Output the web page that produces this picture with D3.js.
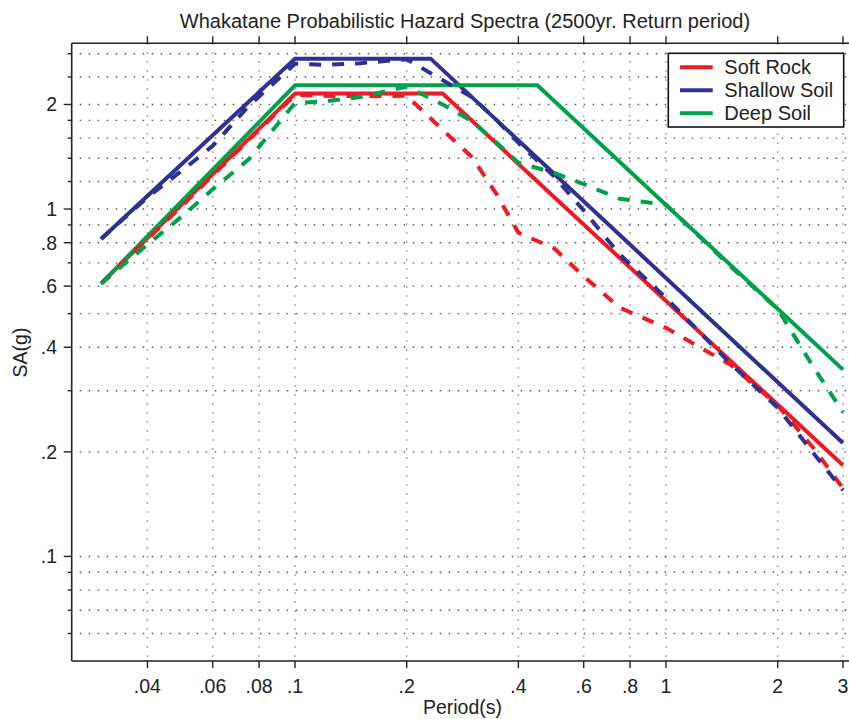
<!DOCTYPE html>
<html>
<head>
<meta charset="utf-8">
<script src="https://cdn.jsdelivr.net/npm/d3@7"></script>
<style>
  html, body { margin: 0; padding: 0; background: #fff; }
  svg { display: block; }
  text { font-family: "Liberation Sans", Arial, Helvetica, sans-serif; fill: #222; }
</style>
</head>
<body>
<svg id="chart" width="849" height="719"></svg>
<script>
// ---- Data ----
const seriesNames = ["Soft Rock", "Shallow Soil", "Deep Soil"];
const seriesColors = ["#ED1C24", "#2E3192", "#00A14B"];

// Design (solid) spectra
const softRockSolidT = [0.03, 0.1, 0.25, 3];
const softRockSolidSA = [0.61, 2.15, 2.15, 0.183];
const shallowSoilSolidT = [0.03, 0.1, 0.232, 3];
const shallowSoilSolidSA = [0.82, 2.71, 2.71, 0.212];
const deepSoilSolidT = [0.03, 0.1, 0.45, 3];
const deepSoilSolidSA = [0.61, 2.27, 2.27, 0.345];

// Probabilistic (dashed) spectra
const dashedT = [0.03, 0.04, 0.05, 0.06, 0.075, 0.1, 0.12, 0.15, 0.2, 0.25, 0.3, 0.35, 0.4, 0.5, 0.6, 0.75, 1.0, 1.5, 2.0, 2.5, 3.0];
const softRockDashedSA = [0.61, 0.82, 1.03, 1.25, 1.58, 2.13, 2.12, 2.11, 2.12, 1.69, 1.41, 1.10, 0.855, 0.77, 0.64, 0.52, 0.455, 0.355, 0.272, 0.205, 0.157];
const shallowSoilDashedSA = [0.82, 1.08, 1.30, 1.52, 1.98, 2.62, 2.60, 2.63, 2.70, 2.35, 2.10, 1.80, 1.55, 1.24, 0.99, 0.74, 0.555, 0.357, 0.268, 0.198, 0.155];
const deepSoilDashedSA = [0.61, 0.79, 0.96, 1.14, 1.39, 2.02, 2.04, 2.10, 2.25, 2.00, 1.79, 1.55, 1.36, 1.27, 1.18, 1.07, 1.03, 0.68, 0.515, 0.35, 0.26];

// Axis ticks
const xTickValues = [0.04, 0.06, 0.08, 0.1, 0.2, 0.4, 0.6, 0.8, 1, 2, 3];
const xTickLabels = [".04", ".06", ".08", ".1", ".2", ".4", ".6", ".8", "1", "2", "3"];
const yTickValues = [0.1, 0.2, 0.4, 0.6, 0.8, 1, 2];
const yTickLabels = [".1", ".2", ".4", ".6", ".8", "1", "2"];
const yMinorValues = [0.06, 0.07, 0.08, 0.09, 0.3, 0.5, 0.7, 0.9, 1.2, 1.4, 1.6, 1.8, 2.4, 2.8];

const titleText = "Whakatane Probabilistic Hazard Spectra (2500yr. Return period)";
const xLabel = "Period(s)";
const yLabel = "SA(g)";

// ---- Layout ----
const pLeft = 71.7, pRight = 849, pTop = 43.3, pBottom = 661;
const svg = d3.select("#chart");

const x = d3.scaleLog().domain([0.025, 3]).range([pLeft, 843]);
const y = d3.scaleLog().domain([0.05, 3]).range([pBottom, pTop]);

// Grid
const grid = svg.append("g");
grid.selectAll("line.v").data(xTickValues).join("line")
  .attr("x1", d => x(d)).attr("x2", d => x(d))
  .attr("y1", pTop).attr("y2", pBottom)
  .attr("stroke", "#8a8a8a").attr("stroke-width", 1.4)
  .attr("stroke-dasharray", "1.5,7.5");
grid.selectAll("line.h").data(yTickValues.concat(yMinorValues)).join("line")
  .attr("x1", pLeft + 8).attr("x2", pRight)
  .attr("y1", d => y(d)).attr("y2", d => y(d))
  .attr("stroke", "#555").attr("stroke-width", 1.4)
  .attr("stroke-dasharray", "1.5,7.5");

// Axes lines
const axisColor = "#222";
svg.append("line").attr("x1", pLeft).attr("x2", pLeft).attr("y1", pTop).attr("y2", pBottom)
  .attr("stroke", axisColor).attr("stroke-width", 1.6);
svg.append("line").attr("x1", pLeft).attr("x2", pRight).attr("y1", pBottom).attr("y2", pBottom)
  .attr("stroke", axisColor).attr("stroke-width", 1.6);
svg.append("line").attr("x1", pLeft).attr("x2", pRight).attr("y1", pTop).attr("y2", pTop)
  .attr("stroke", axisColor).attr("stroke-width", 1.6);

// X ticks (bottom and top)
svg.append("g").selectAll("line").data(xTickValues).join("line")
  .attr("x1", d => x(d)).attr("x2", d => x(d))
  .attr("y1", pBottom).attr("y2", pBottom + 7)
  .attr("stroke", axisColor).attr("stroke-width", 1.4);
svg.append("g").selectAll("line").data(xTickValues).join("line")
  .attr("x1", d => x(d)).attr("x2", d => x(d))
  .attr("y1", pTop).attr("y2", pTop - 7)
  .attr("stroke", axisColor).attr("stroke-width", 1.4);
svg.append("g").selectAll("text").data(xTickValues).join("text")
  .attr("x", d => x(d)).attr("y", 693.3)
  .attr("text-anchor", "middle").attr("font-size", "19.5px")
  .text((d, i) => xTickLabels[i]);

// Y ticks
svg.append("g").selectAll("line").data(yTickValues).join("line")
  .attr("x1", pLeft - 8).attr("x2", pLeft)
  .attr("y1", d => y(d)).attr("y2", d => y(d))
  .attr("stroke", axisColor).attr("stroke-width", 1.4);
svg.append("g").selectAll("line").data(yMinorValues).join("line")
  .attr("x1", pLeft - 4).attr("x2", pLeft)
  .attr("y1", d => y(d)).attr("y2", d => y(d))
  .attr("stroke", axisColor).attr("stroke-width", 1.4);
svg.append("g").selectAll("text").data(yTickValues).join("text")
  .attr("x", 57).attr("y", d => y(d) + 7)
  .attr("text-anchor", "end").attr("font-size", "19.5px")
  .text((d, i) => yTickLabels[i]);

// Title and axis labels
svg.append("text").attr("x", 465).attr("y", 28.3).attr("text-anchor", "middle")
  .attr("font-size", "20px").text(titleText);
svg.append("text").attr("x", 462.5).attr("y", 714).attr("text-anchor", "middle")
  .attr("font-size", "19.5px").text(xLabel);
svg.append("text").attr("transform", "translate(27,352.5) rotate(-90)")
  .attr("text-anchor", "middle").attr("font-size", "19.5px").text(yLabel);

// Lines
const line = d3.line().x(d => x(d[0])).y(d => y(d[1]));
const zip = (a, b) => a.map((v, i) => [v, b[i]]);

const solids = [
  zip(softRockSolidT, softRockSolidSA),
  zip(shallowSoilSolidT, shallowSoilSolidSA),
  zip(deepSoilSolidT, deepSoilSolidSA)
];
const dashed = [
  zip(dashedT, softRockDashedSA),
  zip(dashedT, shallowSoilDashedSA),
  zip(dashedT, deepSoilDashedSA)
];
const lines = svg.append("g");
solids.forEach((s, i) => {
  lines.append("path").attr("d", line(s)).attr("fill", "none")
    .attr("stroke", seriesColors[i]).attr("stroke-width", 4);
});
dashed.forEach((s, i) => {
  lines.append("path").attr("d", line(s)).attr("fill", "none")
    .attr("stroke", seriesColors[i]).attr("stroke-width", 4)
    .attr("stroke-dasharray", "12,11");
});

// Legend
const lg = svg.append("g");
lg.append("rect").attr("x", 668.3).attr("y", 53.3).attr("width", 175.4).attr("height", 73.7)
  .attr("fill", "#fff").attr("stroke", "#111").attr("stroke-width", 1.6);
seriesNames.forEach((n, i) => {
  const ly = 67.3 + i * 23;
  lg.append("line").attr("x1", 680).attr("x2", 712.7).attr("y1", ly).attr("y2", ly)
    .attr("stroke", seriesColors[i]).attr("stroke-width", 4);
  lg.append("text").attr("x", 724.3).attr("y", ly + 7).attr("font-size", "20px").text(n);
});
</script>
</body>
</html>
